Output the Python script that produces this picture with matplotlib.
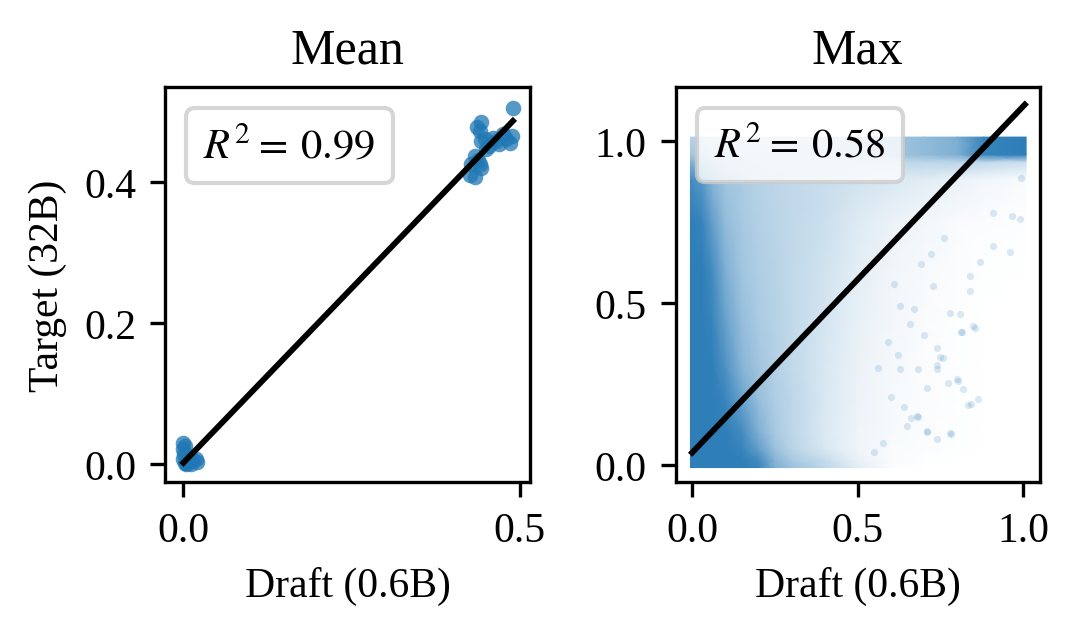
"""
Draft (0.6B) vs target (32B) scores, mean and max, with linear fits.
Writes out.png.
"""
import numpy as np
import matplotlib
matplotlib.use("Agg")
import matplotlib.pyplot as plt
from matplotlib.lines import Line2D
from matplotlib.colors import LinearSegmentedColormap

plt.rcParams["font.family"] = "serif"
plt.rcParams["font.serif"] = ["Liberation Serif", "DejaVu Serif"]
plt.rcParams["mathtext.fontset"] = "stix"
plt.rcParams["font.size"] = 10

# ---- Mean panel: points ----
MEAN_X = [0.000, 0.000, 0.001, 0.000, 0.002, 0.008, 0.015, 0.020, 0.012, 0.004,
          0.002, 0.006, 0.018,
          0.490, 0.443, 0.441, 0.443, 0.460, 0.475, 0.488, 0.485, 0.470, 0.455,
          0.433, 0.428, 0.441, 0.426, 0.443, 0.433, 0.448, 0.465, 0.480, 0.437,
          0.450, 0.438]
MEAN_Y = [0.030, 0.022, 0.015, 0.008, 0.002, 0.004, 0.006, 0.003, 0.000, 0.000,
          0.026, 0.001, 0.008,
          0.506, 0.485, 0.473, 0.459, 0.463, 0.468, 0.466, 0.456, 0.454, 0.452,
          0.437, 0.426, 0.426, 0.411, 0.420, 0.407, 0.462, 0.458, 0.461, 0.478,
          0.447, 0.432]
MEAN_FIT = (0.99, 0.002)      # slope, intercept
MEAN_R2 = 0.99

# ---- Max panel: the cloud is too dense for single points, so keep a
# density table (0 = empty, 1 = solid) ----
MAX_GRID_X = [-0.005, 0.03, 0.06, 0.1, 0.15, 0.2, 0.25, 0.3, 0.4, 0.5, 0.6, 0.7, 0.8, 0.88, 1.008]
MAX_GRID_Y = [-0.008, 0.015, 0.05, 0.1, 0.2, 0.3, 0.45, 0.6, 0.75, 0.88, 0.935, 0.958, 1.012]
MAX_DENSITY = [
    [1.00, 1.00, 1.00, 1.00, 1.00, 0.95, 0.62, 0.48, 0.32, 0.14, 0.02, 0.00, 0.00, 0.00, 0.00],
    [1.00, 1.00, 1.00, 1.00, 1.00, 0.90, 0.58, 0.42, 0.27, 0.10, 0.03, 0.01, 0.00, 0.00, 0.00],
    [1.00, 1.00, 1.00, 1.00, 0.95, 0.75, 0.48, 0.34, 0.18, 0.08, 0.03, 0.02, 0.01, 0.00, 0.00],
    [1.00, 1.00, 1.00, 1.00, 0.90, 0.62, 0.42, 0.32, 0.17, 0.08, 0.04, 0.02, 0.01, 0.00, 0.00],
    [1.00, 1.00, 1.00, 0.95, 0.72, 0.50, 0.38, 0.32, 0.18, 0.09, 0.04, 0.02, 0.01, 0.00, 0.00],
    [1.00, 1.00, 1.00, 0.85, 0.58, 0.45, 0.36, 0.30, 0.18, 0.10, 0.05, 0.02, 0.01, 0.00, 0.00],
    [1.00, 1.00, 0.95, 0.72, 0.50, 0.40, 0.35, 0.30, 0.20, 0.11, 0.06, 0.03, 0.01, 0.00, 0.00],
    [1.00, 1.00, 0.90, 0.62, 0.45, 0.38, 0.34, 0.30, 0.22, 0.13, 0.07, 0.04, 0.02, 0.01, 0.00],
    [1.00, 0.95, 0.75, 0.52, 0.42, 0.36, 0.33, 0.30, 0.25, 0.16, 0.10, 0.06, 0.03, 0.02, 0.01],
    [0.90, 0.80, 0.58, 0.45, 0.40, 0.35, 0.32, 0.30, 0.26, 0.22, 0.18, 0.14, 0.10, 0.06, 0.03],
    [0.60, 0.50, 0.42, 0.36, 0.33, 0.30, 0.29, 0.28, 0.28, 0.29, 0.30, 0.32, 0.33, 0.30, 0.25],
    [0.45, 0.38, 0.33, 0.30, 0.28, 0.27, 0.27, 0.28, 0.32, 0.38, 0.45, 0.52, 0.62, 0.95, 1.00],
    [0.35, 0.30, 0.26, 0.24, 0.22, 0.22, 0.23, 0.26, 0.30, 0.36, 0.45, 0.52, 0.62, 0.95, 1.00],
]
# stray points in the sparse lower-right part
MAX_SPARSE_X = [0.738, 0.758, 0.738, 0.683, 0.708, 0.773, 0.803, 0.818, 0.863, 0.833,
                0.683, 0.710, 0.780, 0.738, 0.627, 0.620, 0.808, 0.853, 0.813, 0.778,
                0.838, 0.657, 0.728, 0.627, 0.670, 0.577, 0.550, 0.908, 0.964, 0.990,
                0.959, 0.994, 0.838, 0.848, 0.810, 0.708, 0.778, 0.748, 0.740, 0.798,
                0.843, 0.678, 0.660, 0.868, 0.908, 0.600, 0.640, 0.590, 0.650, 0.700,
                0.610, 0.560, 0.690, 0.720, 0.760]
MAX_SPARSE_Y = [0.362, 0.331, 0.297, 0.295, 0.239, 0.254, 0.259, 0.234, 0.203, 0.184,
                0.149, 0.102, 0.095, 0.081, 0.297, 0.340, 0.465, 0.424, 0.409, 0.470,
                0.537, 0.434, 0.552, 0.491, 0.480, 0.069, 0.040, 0.779, 0.769, 0.760,
                0.656, 0.887, 0.583, 0.429, 0.410, 0.105, 0.100, 0.332, 0.310, 0.265,
                0.187, 0.151, 0.145, 0.625, 0.676, 0.210, 0.180, 0.380, 0.120, 0.400,
                0.560, 0.300, 0.620, 0.650, 0.700]
MAX_FIT = (1.07, 0.038)
MAX_R2 = 0.58

BLUE = "#1f77b4"
cloud_cmap = LinearSegmentedColormap.from_list("cloud", ["#ffffff", "#2e7eb8"])


def r2_box(ax, r2):
    h = Line2D([], [], linestyle="none")
    ax.legend([h], [rf"$R^{{2}}\!\:=\:{r2:.2f}$"], loc="upper left",
              handlelength=0, handletextpad=0, fontsize=10.2)


fig, (ax1, ax2) = plt.subplots(1, 2, figsize=(3.6, 2.113), dpi=300)
fig.subplots_adjust(left=0.153, right=0.963, bottom=0.238, top=0.861, wspace=0.4)

# Mean
mx = np.array(MEAN_X); my = np.array(MEAN_Y)
ax1.scatter(mx, my, s=14, color=BLUE, alpha=0.75, linewidths=0, zorder=2)
xx = np.array([mx.min(), mx.max()])
ax1.plot(xx, MEAN_FIT[0] * xx + MEAN_FIT[1], color="black", lw=1.4, zorder=3)
ax1.set_xlim(-0.027, 0.515); ax1.set_ylim(-0.0255, 0.535)
ax1.set_xticks([0.0, 0.5]); ax1.set_yticks([0.0, 0.2, 0.4])
ax1.set_title("Mean", fontsize=12)
ax1.set_xlabel("Draft (0.6B)"); ax1.set_ylabel("Target (32B)")
r2_box(ax1, MEAN_R2)

# Max
ax2.pcolormesh(MAX_GRID_X, MAX_GRID_Y, np.array(MAX_DENSITY), shading="gouraud",
               cmap=cloud_cmap, vmin=0, vmax=1, zorder=1)
ax2.scatter(MAX_SPARSE_X, MAX_SPARSE_Y, s=3, color=BLUE, alpha=0.16,
            linewidths=0, zorder=2)
xx = np.array([0.0, 1.004])
ax2.plot(xx, MAX_FIT[0] * xx + MAX_FIT[1], color="black", lw=1.4, zorder=3)
ax2.set_xlim(-0.05, 1.05); ax2.set_ylim(-0.053, 1.166)
ax2.set_xticks([0.0, 0.5, 1.0]); ax2.set_yticks([0.0, 0.5, 1.0])
ax2.set_title("Max", fontsize=12)
ax2.set_xlabel("Draft (0.6B)")
r2_box(ax2, MAX_R2)

fig.savefig("out.png", dpi=300)
print("saved out.png")
